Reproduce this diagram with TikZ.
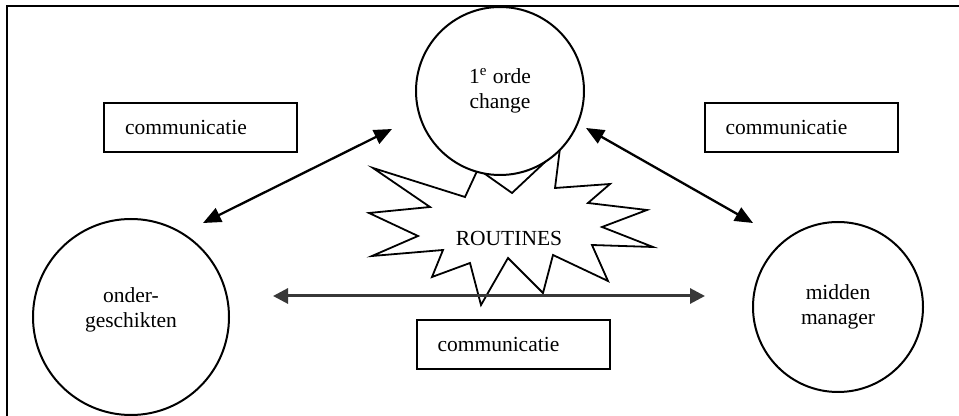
\documentclass[tikz,border=0pt]{standalone}
\usepackage{fontspec}
\setmainfont{Liberation Serif}
\usetikzlibrary{arrows.meta}

\tikzset{
  actor/.style={circle, draw=black, line width=1pt, fill=white, inner sep=0pt, align=center},
  commbox/.style={rectangle, draw=black, line width=1pt, fill=white,
    minimum height=24.5pt, text width=75.5pt, inner xsep=10.5pt, align=left},
  link/.style={line width=1.15pt, draw=black,
    {Triangle[length=9pt,width=7.5pt]}-{Triangle[length=9pt,width=7.5pt]}},
  graylink/.style={line width=1.5pt, draw=black!78, color=black!78,
    {Triangle[length=7.5pt,width=7.5pt]}-{Triangle[length=7.5pt,width=7.5pt]}},
  burst/.style={draw=black, line width=0.9pt, fill=white, line join=miter},
  frame/.style={draw=black, line width=1.2pt}
}

\begin{document}
\begin{tikzpicture}[x=0.5pt, y=-0.5pt, font=\fontsize{10.75}{12.5}\selectfont]
  \useasboundingbox (0,0) rectangle (959,416);

  % open frame: left and top edges only
  \coordinate (fbl) at (7,416);
  \coordinate (ftl) at (7,6);
  \coordinate (ftr) at (959,6);
  \draw[frame] (fbl) -- (ftl) -- (ftr);

  % starburst behind the top circle
  \draw[burst] (373,168) -- (465,197) -- (478,169) -- (512,193) -- (560,148)
    -- (555,188) -- (610,184) -- (588,203) -- (647,210) -- (602,227)
    -- (653,247) -- (592,245) -- (608,281) -- (553,255) -- (543,293)
    -- (508,258) -- (481,305) -- (470,263) -- (432,277) -- (443,250)
    -- (372,256) -- (418,236) -- (369,213) -- (430,207) -- cycle;
  \node (routines) at (509,238) {ROUTINES};

  % the three parties
  \node[actor, minimum size=84pt] (orde) at (500,91) {1\textsuperscript{e} orde\\change};
  \node[actor, minimum size=98pt,
        label={[align=center, yshift=3.5pt]center:onder-\\geschikten}] (onder) at (131,317) {};
  \node[actor, minimum size=85pt] (midden) at (838,307) {midden\\manager};

  % communication labels
  \node[commbox] (commL) at (200.5,127.5) {communicatie};
  \node[commbox] (commR) at (801,127.5) {communicatie};
  \node[commbox] (commB) at (513,344.5) {communicatie};

  % arrow end points
  \coordinate (aL1) at (392,129);
  \coordinate (aL2) at (203,223);
  \coordinate (aR1) at (586,128);
  \coordinate (aR2) at (753,223);
  \coordinate (aB1) at (273,296);
  \coordinate (aB2) at (705,296);

  \draw[link] (aL2) -- (aL1);
  \draw[link] (aR1) -- (aR2);
  \draw[graylink] (aB1) -- (aB2);
\end{tikzpicture}
\end{document}
